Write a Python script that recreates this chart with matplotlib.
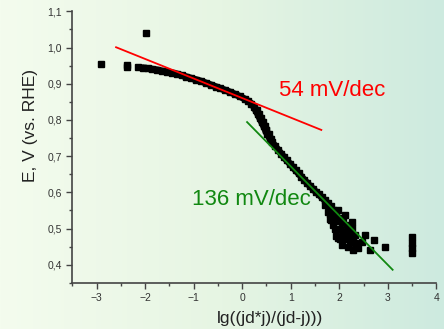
import numpy as np
import matplotlib.pyplot as plt
from matplotlib.colors import LinearSegmentedColormap
from matplotlib.ticker import MultipleLocator

plt.rcParams['font.family'] = ['Liberation Sans', 'DejaVu Sans']

# Tafel data: E vs lg(jd*j/(jd-j))
curve_x = [-2.05, -1.95, -1.85, -1.75, -1.65, -1.55, -1.45, -1.35, -1.25, -1.15,
           -1.05, -0.95, -0.85, -0.75, -0.65, -0.55, -0.45, -0.35, -0.25, -0.15,
           -0.05, 0.05, 0.12, 0.19, 0.24, 0.28, 0.32, 0.36, 0.40, 0.44,
           0.48, 0.52, 0.57, 0.62, 0.68, 0.74, 0.80, 0.86, 0.92, 0.98,
           1.04, 1.10, 1.16, 1.22, 1.28, 1.34, 1.40, 1.46, 1.52, 1.58,
           1.64, 1.70, 1.76, 1.82]
curve_y = [0.944, 0.942, 0.940, 0.938, 0.935, 0.933, 0.930, 0.927, 0.923, 0.919,
           0.915, 0.911, 0.907, 0.902, 0.897, 0.892, 0.887, 0.882, 0.877, 0.871,
           0.865, 0.858, 0.852, 0.845, 0.836, 0.826, 0.816, 0.805, 0.794, 0.783,
           0.771, 0.760, 0.748, 0.738, 0.727, 0.717, 0.707, 0.697, 0.688, 0.679,
           0.670, 0.661, 0.652, 0.643, 0.634, 0.625, 0.617, 0.609, 0.601, 0.594,
           0.586, 0.578, 0.570, 0.561]

# repeated points beside the steep part, the scattered cluster at high
# overpotential and the early outliers
scatter_x = [0.30, 0.34, 0.38, 0.42, 0.46, 0.50, 0.55, 0.60,
             -2.92, -2.38, -2.38, -2.15, -1.99,
             1.70, 1.77, 1.84, 1.91, 1.98, 1.98, 2.05, 2.05, 2.12, 2.12, 2.12,
             2.19, 2.19, 2.26, 2.26, 2.29, 2.32, 2.32, 2.39, 2.46, 2.53, 2.63,
             2.71, 2.95, 3.50, 3.50, 3.50, 3.50,
             1.80, 1.80, 1.87, 1.87, 1.87, 1.94, 1.94, 1.94, 2.01, 2.01, 2.01,
             2.08, 2.08, 2.15, 2.15, 2.22, 2.22, 2.28]
scatter_y = [0.826, 0.816, 0.805, 0.794, 0.783, 0.771, 0.760, 0.748,
             0.954, 0.952, 0.945, 0.947, 1.040,
             0.565, 0.546, 0.523, 0.500, 0.551, 0.473, 0.519, 0.454, 0.537, 0.491, 0.473,
             0.505, 0.450, 0.519, 0.501, 0.441, 0.482, 0.459, 0.445, 0.464, 0.482, 0.441,
             0.468, 0.450, 0.477, 0.459, 0.445, 0.432,
             0.540, 0.525, 0.550, 0.530, 0.510, 0.540, 0.520, 0.480, 0.530, 0.500, 0.470,
             0.520, 0.490, 0.510, 0.470, 0.490, 0.465, 0.475]

# Tafel slopes in V/dec and the range each fit line covers
red_slope = 0.054
red_x = [-2.6, 1.63]
red_anchor = (-0.485, 0.8865)
green_slope = 0.136
green_x = [0.1, 3.1]
green_anchor = (1.6, 0.59)

fig = plt.figure(figsize=(4.44, 3.29), dpi=100)

# soft horizontal gradient behind everything
bg = fig.add_axes([0, 0, 1, 1], zorder=-1)
cmap = LinearSegmentedColormap.from_list('bg', ['#f4fcee', '#e6f5e3', '#cdeadf'])
bg.imshow(np.linspace(0, 1, 256)[None, :], aspect='auto', cmap=cmap,
          extent=[0, 1, 0, 1])
bg.axis('off')

ax = fig.add_axes([72.4 / 444, 1 - 282.8 / 329, (436.3 - 72.4) / 444, (282.8 - 11.3) / 329])
ax.patch.set_alpha(0)

ax.plot(curve_x, curve_y, 's-', color='black', ms=4.0, lw=5.0,
        solid_joinstyle='round', solid_capstyle='round', zorder=3)
ax.plot(scatter_x, scatter_y, 's', color='black', ms=4.3, lw=0, zorder=3)

def fit_line(xs, slope, anchor):
    x0, y0 = anchor
    return [y0 - slope * (x - x0) for x in xs]

ax.plot(red_x, fit_line(red_x, red_slope, red_anchor), color='red', lw=1.3, zorder=4)
ax.plot(green_x, fit_line(green_x, green_slope, green_anchor), color='#118811', lw=1.3, zorder=4)

ax.text(0.75, 0.88, f'{red_slope * 1000:.0f} mV/dec', color='red', fontsize=16,
        va='center')
ax.text(-1.04, 0.579, f'{green_slope * 1000:.0f} mV/dec', color='#118811', fontsize=16,
        va='center')

ax.set_xlim(-3.5, 4)
ax.set_ylim(0.35, 1.1)
ax.xaxis.set_major_locator(MultipleLocator(1))
ax.xaxis.set_minor_locator(MultipleLocator(0.5))
ax.yaxis.set_minor_locator(MultipleLocator(0.05))
ax.set_yticks([0.4, 0.5, 0.6, 0.7, 0.8, 0.9, 1.0, 1.1])
ax.set_yticklabels(['0,4', '0,5', '0,6', '0,7', '0,8', '0,9', '1,0', '1,1'])

for side in ['top', 'right']:
    ax.spines[side].set_visible(False)
for side in ['left', 'bottom']:
    ax.spines[side].set_color('#444444')
    ax.spines[side].set_linewidth(1.2)
ax.tick_params(which='major', length=4, width=1, color='#444444',
               labelsize=7.5, labelcolor='#333333')
ax.tick_params(which='minor', length=2.5, width=1, color='#444444')

fig.text(270 / 444, 1 - 319 / 329, 'lg((jd*j)/(jd-j)))', fontsize=12.5,
         ha='center', va='center', color='#222222')
fig.text(30 / 444, 1 - 125 / 329, 'E, V (vs. RHE)', fontsize=12.5, rotation=90,
         ha='center', va='center', color='#222222')

fig.savefig('out.png', dpi=100)
